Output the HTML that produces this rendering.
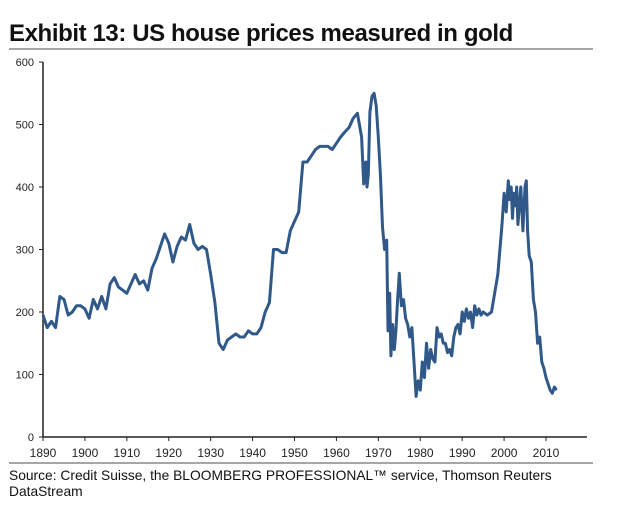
<!DOCTYPE html>
<html><head><meta charset="utf-8"><style>
body{margin:0;background:#fff;width:640px;height:516px;overflow:hidden;font-family:"Liberation Sans",Arial,sans-serif}
</style></head><body>
<svg width="640" height="516" xmlns="http://www.w3.org/2000/svg">
<text x="9" y="41" font-size="24" font-weight="bold" fill="#111" style="letter-spacing:-0.4px">Exhibit 13: US house prices measured in gold</text>
<line x1="9" y1="49" x2="593" y2="49" stroke="#888" stroke-width="1.5"/>
<g id="axes"></g>
<path id="series" fill="none" stroke="#30598a" stroke-width="3" stroke-linejoin="round"/>
<line x1="9" y1="463" x2="593" y2="463" stroke="#888" stroke-width="1.5"/>
<text x="9" y="480" font-size="13.8" fill="#111">Source: Credit Suisse, the BLOOMBERG PROFESSIONAL™ service, Thomson Reuters</text>
<text x="9" y="496" font-size="13.8" fill="#111">DataStream</text>
</svg>
<script>
const yTicks=[0,100,200,300,400,500,600];
const xTicks=[1890,1900,1910,1920,1930,1940,1950,1960,1970,1980,1990,2000,2010];
const years=[1890,1891,1892,1893,1894,1895,1896,1897,1898,1899,1900,1901,1902,1903,1904,1905,1906,1907,1908,1909,1910,1911,1912,1913,1914,1915,1916,1917,1918,1919,1920,1921,1922,1923,1924,1925,1926,1927,1928,1929,1930,1931,1932,1933,1934,1935,1936,1937,1938,1939,1940,1941,1942,1943,1944,1945,1946,1947,1948,1949,1950,1951,1952,1953,1954,1955,1956,1957,1958,1959,1960,1961,1962,1963,1964,1965,1966,1966.5,1967,1967.3,1967.6,1968,1968.5,1969,1969.5,1970,1970.5,1971,1971.5,1972,1972.3,1972.7,1973,1973.4,1973.8,1974.2,1974.6,1975,1975.5,1976,1976.5,1977,1977.5,1978,1978.5,1979,1979.5,1980,1980.5,1981,1981.5,1982,1982.5,1983,1983.5,1984,1984.5,1985,1985.5,1986,1986.5,1987,1987.5,1988,1988.5,1989,1989.5,1990,1990.5,1991,1991.5,1992,1992.5,1993,1993.5,1994,1994.5,1995,1996,1997,1998,1998.5,1999,1999.5,2000,2000.5,2001,2001.3,2001.7,2002,2002.3,2002.7,2003,2003.3,2003.7,2004,2004.5,2005,2005.3,2005.6,2006,2006.5,2007,2007.5,2008,2008.5,2009,2009.5,2010,2010.5,2011,2011.5,2012,2012.5];
const values=[195,175,185,175,225,220,195,200,210,210,205,190,220,205,225,205,245,255,240,235,230,245,260,245,250,235,270,285,305,325,310,280,305,320,315,340,310,300,305,300,260,215,150,140,155,160,165,160,160,170,165,165,175,200,215,300,300,295,295,330,345,360,440,440,450,460,465,465,465,460,470,480,488,495,510,518,480,405,440,400,420,520,545,550,530,480,420,336,300,315,170,230,130,180,140,170,220,262,210,220,190,180,160,175,120,65,90,75,120,95,150,110,140,125,120,175,160,165,150,150,135,140,130,160,175,180,165,200,185,205,190,200,175,210,195,205,195,200,195,200,240,260,300,340,390,360,410,380,400,350,390,370,400,340,375,400,330,400,410,330,290,280,220,200,150,160,120,110,95,85,75,70,80,75,80];
const X0=43,PX=(546-43)/120,Y0=437,PY=0.625;
const xs=y=>X0+(y-1890)*PX, ys=v=>Y0-v*PY;
const NS="http://www.w3.org/2000/svg";
const ax=document.getElementById('axes');
function mk(t,a){const e=document.createElementNS(NS,t);for(const k in a)e.setAttribute(k,a[k]);ax.appendChild(e);return e;}
let e=mk('line',{x1:X0,y1:ys(600),x2:X0,y2:Y0,stroke:'#222','stroke-width':1.5});


e=mk('line',{x1:X0,y1:Y0,x2:587,y2:Y0,stroke:'#222','stroke-width':1.5});


yTicks.forEach(v=>{
 const t=mk('line',{x1:X0-4,y1:ys(v),x2:X0,y2:ys(v),stroke:'#222'});
 
 
 const l=mk('text',{x:X0-9,y:ys(v)+4,'font-size':11,'text-anchor':'end',fill:'#222'});
 l.textContent=v;
 
 
});
xTicks.forEach(y=>{
 const t=mk('line',{x1:xs(y),y1:Y0,x2:xs(y),y2:Y0+4,stroke:'#222'});
 
 
 const l=mk('text',{x:xs(y),y:Y0+20,'font-size':12,'text-anchor':'middle',fill:'#222'});
 l.textContent=y;
 
 
});
document.getElementById('series').setAttribute('d',years.map((y,i)=>(i?'L':'M')+xs(y).toFixed(1)+','+ys(values[i]).toFixed(1)).join(''));
</script>
</body></html>
